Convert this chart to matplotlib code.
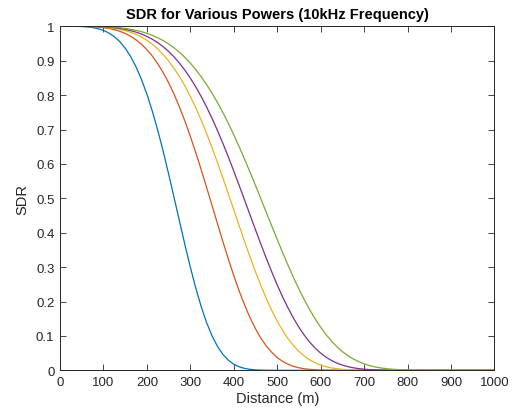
import matplotlib
matplotlib.use("Agg")
import matplotlib.pyplot as plt
import numpy as np
from matplotlib.ticker import FuncFormatter

# distance grid (m), one reading every 12.5 m
distance = np.arange(0, 1000.1, 12.5)

sdr_p1 = [1.0, 1.0, 1.0, 0.9998, 0.9994, 0.9983, 0.9964, 0.9932, 0.9881, 0.9806,
          0.9700, 0.9556, 0.9366, 0.9124, 0.8823, 0.8460, 0.8030, 0.7536, 0.6978, 0.6367,
          0.5711, 0.5028, 0.4335, 0.3652, 0.2998, 0.2394, 0.1853, 0.1387, 0.1002, 0.0695,
          0.0462, 0.0294, 0.0177, 0.0102, 0.0055, 0.0028, 0.00135, 0.0006, 0.00025, 0.0001,
          0.0]
sdr_p2 = [1.0, 1.0, 1.0, 1.0, 0.9998, 0.9995, 0.9989, 0.9978, 0.9962, 0.9938,
          0.9903, 0.9856, 0.9793, 0.9711, 0.9607, 0.9479, 0.9322, 0.9135, 0.8913, 0.8655,
          0.8360, 0.8026, 0.7654, 0.7246, 0.6802, 0.6330, 0.5833, 0.5316, 0.4791, 0.4262,
          0.3741, 0.3235, 0.2753, 0.2304, 0.1895, 0.1527, 0.1207, 0.0933, 0.0703, 0.0519,
          0.0372, 0.0259, 0.0176, 0.0116, 0.00735, 0.0045, 0.00268, 0.0015, 0.00084, 0.00044,
          0.00022, 0.0001, 0.0]
sdr_p3 = [1.0, 1.0, 1.0, 1.0, 0.9999, 0.9997, 0.9993, 0.9987, 0.9977, 0.9963,
          0.9943, 0.9914, 0.9877, 0.9828, 0.9766, 0.9689, 0.9594, 0.9479, 0.9343, 0.9182,
          0.8995, 0.8781, 0.8539, 0.8266, 0.7964, 0.7632, 0.7272, 0.6884, 0.6472, 0.6041,
          0.5593, 0.5132, 0.4666, 0.4200, 0.3741, 0.3293, 0.2866, 0.2460, 0.2084, 0.1740,
          0.1429, 0.1155, 0.0918, 0.0716, 0.0548, 0.0411, 0.0302, 0.0217, 0.0152, 0.0104,
          0.00695, 0.0045, 0.00286, 0.0018, 0.00105, 0.0006, 0.00034, 0.0002, 0.0001, 0.0]
sdr_p4 = [1.0, 1.0, 1.0, 1.0, 0.9999, 0.9998, 0.9995, 0.9991, 0.9984, 0.9974,
          0.9959, 0.9939, 0.9912, 0.9876, 0.9832, 0.9776, 0.9707, 0.9624, 0.9525, 0.9407,
          0.9270, 0.9111, 0.8930, 0.8725, 0.8495, 0.8241, 0.7960, 0.7653, 0.7323, 0.6970,
          0.6595, 0.6202, 0.5793, 0.5373, 0.4945, 0.4514, 0.4086, 0.3663, 0.3252, 0.2858,
          0.2482, 0.2131, 0.1808, 0.1514, 0.1250, 0.1017, 0.0815, 0.0643, 0.0499, 0.0381,
          0.0285, 0.0209, 0.0151, 0.0106, 0.00734, 0.0050, 0.00326, 0.0021, 0.00131, 0.0008,
          0.00048, 0.0003, 0.00015, 0.0001, 0.0]
sdr_p5 = [1.0, 1.0, 1.0, 1.0, 0.9999, 0.9999, 0.9997, 0.9994, 0.9989, 0.9982,
          0.9971, 0.9957, 0.9939, 0.9914, 0.9883, 0.9844, 0.9796, 0.9738, 0.9668, 0.9585,
          0.9487, 0.9375, 0.9245, 0.9097, 0.8930, 0.8743, 0.8535, 0.8306, 0.8056, 0.7784,
          0.7492, 0.7178, 0.6846, 0.6498, 0.6134, 0.5758, 0.5374, 0.4981, 0.4586, 0.4193,
          0.3802, 0.3421, 0.3052, 0.2698, 0.2362, 0.2048, 0.1756, 0.1490, 0.1250, 0.1036,
          0.0847, 0.0684, 0.0544, 0.0428, 0.0330, 0.0251, 0.0188, 0.0138, 0.0100, 0.0071,
          0.00494, 0.0034, 0.00226, 0.0015, 0.00095, 0.0006, 0.00036, 0.0002, 0.0001, 0.0]

series = [sdr_p1, sdr_p2, sdr_p3, sdr_p4, sdr_p5]
colors = ["#0072BD", "#D95319", "#EDB120", "#7E2F8E", "#77AC30"]

x_ticks = list(range(0, 1001, 100))
y_ticks = [i / 10 for i in range(0, 11)]

title = "SDR for Various Powers (10kHz Frequency)"
xlabel = "Distance (m)"
ylabel = "SDR"

plt.rcParams['font.family'] = ['Liberation Sans', 'DejaVu Sans']

fig = plt.figure(figsize=(5.14, 4.14), dpi=100)
ax = fig.add_axes([0.1167, 0.1031, 0.8453, 0.8309])

n = len(distance)
for s, c in zip(series, colors):
    vals = list(s) + [0.0] * (n - len(s))
    ax.plot(distance, vals, color=c, lw=0.9)

ax.set_xlim(0, 1000)
ax.set_ylim(0, 1)
ax.set_xticks(x_ticks)
ax.set_yticks(y_ticks)
ax.yaxis.set_major_formatter(FuncFormatter(lambda v, p: ("%g" % round(v, 1))))
ax.tick_params(direction='in', top=True, right=True, length=4, width=0.6,
               colors='#262626', labelsize=9.5, pad=4)
for sp in ax.spines.values():
    sp.set_linewidth(0.7)
    sp.set_color('#262626')

ax.set_title(title, fontsize=10.5, fontweight='bold', pad=6)
ax.set_xlabel(xlabel, fontsize=10.5, color='#262626', labelpad=2)
ax.set_ylabel(ylabel, fontsize=10.5, color='#262626', labelpad=5)

fig.savefig("out.png", dpi=100)
